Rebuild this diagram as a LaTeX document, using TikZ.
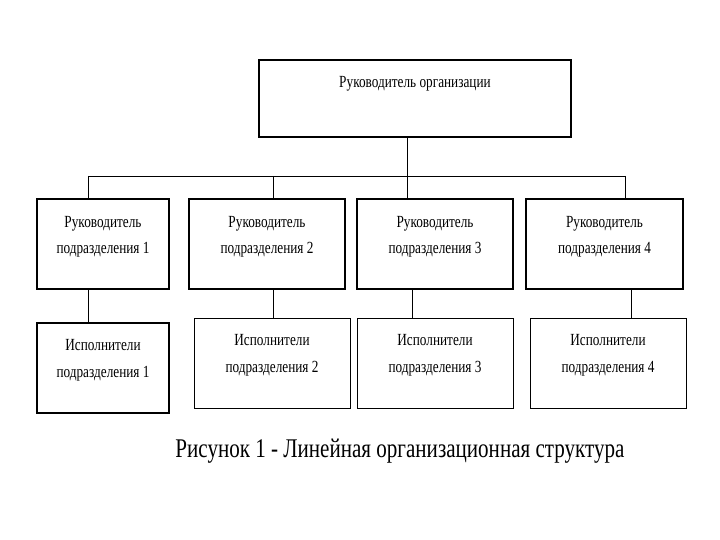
\documentclass[tikz,border=0pt]{standalone}
\usepackage{fontspec}
\setmainfont[FakeStretch=0.78]{Liberation Serif}
\begin{document}
\begin{tikzpicture}[x=1pt,y=-1pt,
  box/.style={draw,line width=1.6pt,inner sep=0pt,minimum height=90pt},
  fin/.style={line width=0.9pt},
  txt/.style={align=center,anchor=base,inner sep=0pt,font=\fontsize{17}{27}\selectfont},
  lien/.style={line width=0.9pt}]
\useasboundingbox (0,0) rectangle (720,540);
\node[box,minimum width=312pt,minimum height=77pt] (chef) at (415,98.5) {};%direction
\node[txt] (tchef) at (415,88) {Руководитель организации};
%niveau 2
\node[box,minimum width=132pt] (r1) at (103,244) {};
\node[box,minimum width=156pt] (r2) at (267,244) {};
\node[box,minimum width=156pt] (r3) at (435,244) {};
\node[box,minimum width=157pt] (r4) at (604.5,244) {};
\node[txt] (tr1) at (103,254) {Руководитель\\подразделения 1};
\node[txt] (tr2) at (267,254) {Руководитель\\подразделения 2};
\node[txt] (tr3) at (435,254) {Руководитель\\подразделения 3};
\node[txt] (tr4) at (604.5,254) {Руководитель\\подразделения 4};
%niveau 3
\node[box,minimum width=132pt] (i1) at (103,368) {};
\node[box,fin,minimum width=156pt] (i2) at (272,363) {};
\node[box,fin,minimum width=156pt] (i3) at (435,363) {};
\node[box,fin,minimum width=156pt] (i4) at (608,363) {};
\node[txt] (ti1) at (103,377) {Исполнители\\подразделения 1};
\node[txt] (ti2) at (272,372) {Исполнители\\подразделения 2};
\node[txt] (ti3) at (435,372) {Исполнители\\подразделения 3};
\node[txt] (ti4) at (608,372) {Исполнители\\подразделения 4};
%liaisons
\coordinate (b1) at (88,176);
\coordinate (b2) at (273,176);
\coordinate (b3) at (407,176);
\coordinate (b4) at (625,176);
\coordinate (c3) at (412,0);
\coordinate (c4) at (631,0);
\draw[lien] (b1) -- (b4);
\draw[lien] (chef.south -| b3) -- (r3.north -| b3);
\draw[lien] (b1) -- (r1.north -| b1);
\draw[lien] (b2) -- (r2.north -| b2);
\draw[lien] (b4) -- (r4.north -| b4);
\draw[lien] (r1.south -| b1) -- (i1.north -| b1);
\draw[lien] (r2.south -| b2) -- (i2.north -| b2);
\draw[lien] (r3.south -| c3) -- (i3.north -| c3);
\draw[lien] (r4.south -| c4) -- (i4.north -| c4);
\node[anchor=base,inner sep=0pt,font=\fontsize{27}{30}\selectfont] (legende) at (400,457) {Рисунок 1 - Линейная организационная структура};
\end{tikzpicture}
\end{document}
